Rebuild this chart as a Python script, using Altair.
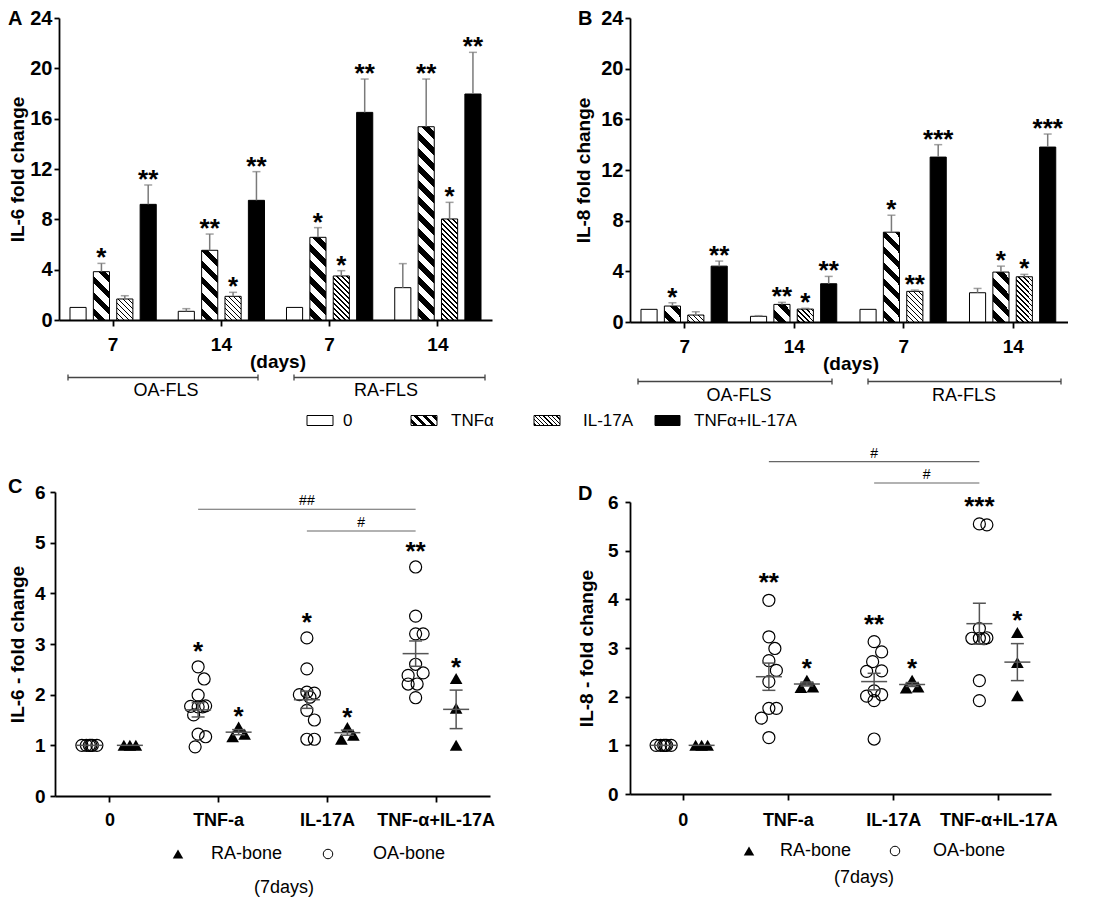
import math
import json
import altair as alt
import pandas as pd

FONT = "Liberation Sans"
ERR_GRAY = "#7a7a7a"
LINE_GRAY = "#555555"

# ---------------- Panels A / B : bar charts ----------------
groups = ["OA7", "OA14", "RA7", "RA14"]
day_labels = ["7", "14", "7", "14"]
cell_names = ["OA-FLS", "RA-FLS"]
treatments = ["0", "TNFα", "IL-17A", "TNFα+IL-17A"]
days_text = "(days)"

il6_mean = [[1.00, 3.84, 1.67, 9.19],
            [0.69, 5.54, 1.88, 9.51],
            [1.00, 6.57, 3.50, 16.50],
            [2.57, 15.36, 8.03, 17.96]]
il6_upper = [[1.00, 4.50, 1.93, 10.73],
             [0.90, 6.83, 2.20, 11.79],
             [1.00, 7.34, 3.92, 19.15],
             [4.48, 19.15, 9.35, 21.27]]
il6_sig = [["", "*", "", "**"],
           ["", "**", "*", "**"],
           ["", "*", "*", "**"],
           ["", "**", "*", "**"]]

il8_mean = [[1.00, 1.26, 0.55, 4.41],
            [0.45, 1.39, 1.02, 3.02],
            [1.00, 7.09, 2.42, 13.02],
            [2.31, 3.94, 3.57, 13.81]]
il8_upper = [[1.00, 1.52, 0.81, 4.81],
             [0.50, 1.55, 1.08, 3.60],
             [1.00, 8.43, 2.52, 14.00],
             [2.65, 4.41, 3.76, 14.84]]
il8_sig = [["", "*", "", "**"],
           ["", "**", "*", "**"],
           ["", "*", "**", "***"],
           ["", "*", "*", "***"]]

# ---------------- Panels C / D : scatter (mean +/- SEM) ----------------
categories = ["0", "TNF-a", "IL-17A", "TNF-α+IL-17A"]
sources = ["OA-bone", "RA-bone"]
days7_text = "(7days)"

c_oa_points = [[1.00, 1.00, 1.00, 1.00, 1.00, 1.00],
               [2.55, 2.31, 1.99, 1.78, 1.77, 1.76, 1.76, 1.60, 1.22, 1.17, 0.97],
               [3.12, 2.51, 2.05, 2.03, 2.00, 1.95, 1.69, 1.50, 1.12, 1.12],
               [4.52, 3.55, 3.20, 3.20, 2.60, 2.43, 2.38, 2.21, 2.21, 1.94]]
c_ra_points = [[1.00, 1.00, 1.00],
               [1.36, 1.22, 1.17],
               [1.35, 1.20, 1.12],
               [2.32, 1.73, 1.00]]
c_oa_mean = [1.00, 1.70, 1.90, 2.81]
c_oa_sem = [0.00, 0.14, 0.17, 0.25]
c_ra_mean = [1.00, 1.26, 1.25, 1.71]
c_ra_sem = [0.00, 0.05, 0.05, 0.38]
c_oa_sig = ["", "*", "*", "**"]
c_ra_sig = ["", "*", "*", "*"]
c_brackets = [{"from": "TNF-a", "to": "TNF-α+IL-17A", "y": 5.66, "mark": "##"},
              {"from": "IL-17A", "to": "TNF-α+IL-17A", "y": 5.23, "mark": "#"}]

d_oa_points = [[1.00, 1.00, 1.00, 1.00, 1.00, 1.00],
               [3.98, 3.23, 2.99, 2.74, 2.54, 2.31, 1.76, 1.76, 1.56, 1.16],
               [3.13, 2.92, 2.72, 2.53, 2.52, 2.12, 2.04, 2.01, 1.92, 1.13],
               [5.55, 5.53, 3.40, 3.21, 3.20, 3.20, 3.19, 2.33, 1.92]]
d_ra_points = [[1.00, 1.00, 1.00],
               [2.34, 2.20, 2.19],
               [2.34, 2.20, 2.18],
               [3.32, 2.70, 2.02]]
d_oa_mean = [1.00, 2.41, 2.31, 3.50]
d_oa_sem = [0.00, 0.28, 0.17, 0.42]
d_ra_mean = [1.00, 2.26, 2.25, 2.71]
d_ra_sem = [0.00, 0.04, 0.04, 0.38]
d_oa_sig = ["", "**", "**", "***"]
d_ra_sig = ["", "*", "*", "*"]
d_brackets = [{"from": "TNF-a", "to": "TNF-α+IL-17A", "y": 6.83, "mark": "#"},
              {"from": "IL-17A", "to": "TNF-α+IL-17A", "y": 6.39, "mark": "#"}]


# ---------------- helpers ----------------
def label_expr(keys, labels):
    expr = "''"
    for k, l in reversed(list(zip(keys, labels))):
        kk = json.dumps(k, ensure_ascii=False) if isinstance(k, str) else str(k)
        expr = f"datum.value == {kk} ? {json.dumps(l, ensure_ascii=False)} : ({expr})"
    return expr


def stripe_gradient(w, h, period, dark):
    """Diagonal '\\' stripes at 45 degrees in pixel space for a w x h rect."""
    L = w + h
    segs = []
    pos = 0.0
    start = period * 0.3
    k = -1
    while True:
        s = start + k * period
        e = s + dark
        k += 1
        if e <= 0:
            continue
        if s >= L:
            break
        a, b = max(s, 0.0), min(e, L)
        if a > pos:
            segs.append((pos, a, "white"))
        segs.append((a, b, "black"))
        pos = b
    if pos < L:
        segs.append((pos, L, "white"))
    stops = []
    for a, b, c in segs:
        stops.append({"offset": round(a / L, 5), "color": c})
        stops.append({"offset": round(b / L, 5), "color": c})
    kk = (w + h) / (w * w + h * h)
    return {"gradient": "linear", "x1": 0, "y1": 1,
            "x2": round(kk * w, 6), "y2": round(1 - kk * h, 6), "stops": stops}


def one_row(**kw):
    return alt.Data(values=[kw if kw else {"k": 0}])


def text_at(text, x, y, size, weight="normal", align="center", baseline="middle", font=FONT):
    return alt.Chart(one_row(t=text)).mark_text(
        font=font, fontSize=size, fontWeight=weight, align=align, baseline=baseline, color="black"
    ).encode(x=alt.value(x), y=alt.value(y), text="t:N")


def hline_at(x1, x2, y, color="black", width=1.2):
    return alt.Chart(one_row()).mark_rule(color=color, strokeWidth=width).encode(
        x=alt.value(x1), x2=alt.value(x2), y=alt.value(y))


def vline_at(x, y1, y2, color="black", width=1.2):
    return alt.Chart(one_row()).mark_rule(color=color, strokeWidth=width).encode(
        x=alt.value(x), y=alt.value(y1), y2=alt.value(y2))


def swarm(vals, ypx, diam, max_off, step):
    cands = [0.0]
    k = 1
    while k * step <= max_off + 1e-9:
        cands += [k * step, -k * step]
        k += 1
    placed, offs = [], []
    for v in vals:
        y = v * ypx
        chosen, best_md, best_c = None, -1.0, 0.0
        for c in cands:
            md = min((math.hypot(c - o, y - yy) for o, yy in placed), default=1e9)
            if md >= diam:
                chosen = c
                break
            if md > best_md + 1e-9:
                best_md, best_c = md, c
        if chosen is None:
            chosen = best_c
        placed.append((chosen, y))
        offs.append(chosen)
    return offs


AX = dict(domainColor="black", domainWidth=1.8, tickColor="black", tickWidth=1.8,
          labelColor="black", labelFont=FONT, labelFontWeight="bold", grid=False)


def bar_panel(letter, letter_x, ytitle, mean, upper, sig, W, H, x0, title_x, ylab_pad, xlab_pad, ann, legend=None):
    rows = []
    for gi, g in enumerate(groups):
        for ti, t in enumerate(treatments):
            rows.append({"group": g, "treat": t, "value": mean[gi][ti],
                         "upper": upper[gi][ti], "sig": sig[gi][ti]})
    df = pd.DataFrame(rows)
    pi, po = 0.31, 0.47
    step_g = (W - x0) / len(groups)
    step_o = step_g / (len(treatments) - pi + 2 * po)
    bw = step_o * (1 - pi)
    ypx = H / 24.0

    xs = alt.Scale(domain=groups, range=[x0, W], paddingInner=0, paddingOuter=0)
    xos = alt.Scale(domain=treatments, paddingInner=pi, paddingOuter=po)
    ys = alt.Scale(domain=[0, 24], nice=False, zero=True)
    xaxis = alt.Axis(**AX, labelExpr=label_expr(groups, day_labels), labelFontSize=19,
                     labelPadding=xlab_pad, tickSize=6, labelAngle=0, title=None)
    yaxis = alt.Axis(**AX, values=list(range(0, 25, 4)), labelFontSize=20, labelPadding=ylab_pad,
                     tickSize=5, title=ytitle, titleFont=FONT, titleFontSize=19, titleFontWeight="bold",
                     titleColor="black", titleAngle=270, titleBaseline="bottom", titleAlign="center",
                     titleX=title_x, titleY=H / 2, offset=-x0)
    X = alt.X("group:N", scale=xs, axis=xaxis, title=None)
    XO = alt.XOffset("treat:N", scale=xos)

    def Y(f):
        return alt.Y(f, type="quantitative", scale=ys, axis=yaxis)

    base = alt.Chart(df)
    layers = [
        base.transform_filter(alt.datum.treat == treatments[0]).mark_bar(
            fill="white", stroke="black", strokeWidth=1).encode(x=X, xOffset=XO, y=Y("value")),
        base.transform_filter(alt.datum.treat == treatments[3]).mark_bar(
            fill="black", stroke="black", strokeWidth=1).encode(x=X, xOffset=XO, y=Y("value")),
    ]
    hatch = {1: (16.0, 7.5), 2: (5.0, 1.4)}
    for gi, g in enumerate(groups):
        for ti in (1, 2):
            per, dark = hatch[ti]
            grad = stripe_gradient(bw, mean[gi][ti] * ypx, per, dark)
            layers.append(
                base.transform_filter((alt.datum.group == g) & (alt.datum.treat == treatments[ti]))
                .mark_bar(fill=grad, stroke="black", strokeWidth=1)
                .encode(x=X, xOffset=XO, y=Y("value")))
    err = base.transform_filter(alt.datum.upper > alt.datum.value + 0.001)
    layers.append(err.mark_rule(color=ERR_GRAY, strokeWidth=1.5).encode(
        x=X, xOffset=XO, y=Y("value"), y2="upper:Q"))
    layers.append(err.mark_tick(color=ERR_GRAY, thickness=1.5, size=8).encode(
        x=X, xOffset=XO, y=Y("upper")))
    layers.append(base.transform_filter(alt.datum.sig != "").mark_text(
        font=FONT, fontSize=26, fontWeight="bold", baseline="alphabetic", dy=3, color="black").encode(
        x=X, xOffset=XO, y=Y("upper"), text="sig:N"))

    # annotations below the axis
    layers.append(text_at(letter, letter_x, 6.5, 20, "bold", align="left", baseline="alphabetic"))
    layers.append(text_at(days_text, ann["days"][0], ann["days"][1], 19, "bold"))
    for (x1, x2), (lx, ly), name in zip(ann["lines"], ann["labels"], cell_names):
        y = ann["line_y"]
        layers.append(hline_at(x1, x2, y, "#444444", 1.3))
        layers.append(vline_at(x1, y - 3, y + 3, "#444444", 1.3))
        layers.append(vline_at(x2, y - 3, y + 3, "#444444", 1.3))
        layers.append(text_at(name, lx, ly, 18))
    if legend is not None:
        ly = legend["y"]
        fills = ["white", stripe_gradient(26, 10, 9.0, 4.2), stripe_gradient(26, 10, 4.3, 1.3), "black"]
        for (sx1, sx2, tx), t, f in zip(legend["items"], treatments, fills):
            layers.append(alt.Chart(one_row(t=t)).mark_rect(fill=f, stroke="black", strokeWidth=1).encode(
                x=alt.value(sx1), x2=alt.value(sx2), y=alt.value(ly - 5), y2=alt.value(ly + 5)))
            layers.append(text_at(t, tx, ly, 17, align="left"))
    return alt.layer(*layers).properties(width=W, height=H)


def scatter_panel(letter, letter_x, letter_y, ytitle, oa_pts, ra_pts, oa_mean, oa_sem, ra_mean, ra_sem,
                  oa_sig, ra_sig, brackets, W, H, ytop, side_oa, side_ra, dy_oa, dy_ra,
                  title_x, ylab_pad, xlab_pad, lg):
    xpx = W / 4.0
    ypx = (H - ytop) / 6.0
    idx = {c: i for i, c in enumerate(categories)}
    pts, stats = [], []
    for ci, cat in enumerate(categories):
        for src, vals, side, diam, mo, mu, se, sg in (
                (sources[0], oa_pts[ci], side_oa, 13.0, 8.0, oa_mean[ci], oa_sem[ci], oa_sig[ci]),
                (sources[1], ra_pts[ci], side_ra, 12.0, 7.0, ra_mean[ci], ra_sem[ci], ra_sig[ci])):
            offs = swarm(vals, ypx, diam, mo, 1.5)
            for v, o in zip(vals, offs):
                pts.append({"src": src, "x": ci + (side + o) / xpx, "y": v})
            xm = ci + side / xpx
            stats.append({"src": src, "xm": xm, "m1": xm - 13 / xpx, "m2": xm + 13 / xpx,
                          "c1": xm - 6.5 / xpx, "c2": xm + 6.5 / xpx, "mean": mu,
                          "lo": mu - se, "hi": mu + se, "sem": se, "sig": sg, "top": max(vals)})
    br = []
    for b in brackets:
        b1 = idx[b["from"]] + side_oa / xpx
        b2 = idx[b["to"]] + side_oa / xpx
        br.append({"b1": b1, "b2": b2, "bm": (b1 + b2) / 2, "by": b["y"], "mark": b["mark"]})
    pdf, sdf, bdf = pd.DataFrame(pts), pd.DataFrame(stats), pd.DataFrame(br)

    xs = alt.Scale(domain=[-0.5, 3.5], nice=False, zero=False)
    yscale = dict(domain=[0, 6], nice=False, zero=True)
    if ytop:
        yscale["range"] = [H, ytop]
    ys = alt.Scale(**yscale)
    xaxis = alt.Axis(**AX, values=[0, 1, 2, 3], labelExpr=label_expr([0, 1, 2, 3], categories),
                     labelFontSize=18, labelPadding=xlab_pad, tickSize=6, labelAngle=0, title=None)
    yaxis = alt.Axis(**AX, values=[0, 1, 2, 3, 4, 5, 6], labelFontSize=19, labelPadding=ylab_pad,
                     tickSize=5, title=ytitle, titleFont=FONT, titleFontSize=19, titleFontWeight="bold",
                     titleColor="black", titleAngle=270, titleBaseline="bottom", titleAlign="center",
                     titleX=title_x, titleY=(H + ytop) / 2)

    def X(f):
        return alt.X(f, type="quantitative", scale=xs, axis=xaxis)

    def Y(f):
        return alt.Y(f, type="quantitative", scale=ys, axis=yaxis)

    sb = alt.Chart(sdf)
    withsem = sb.transform_filter(alt.datum.sem > 0)
    pb = alt.Chart(pdf)
    layers = [
        pb.transform_filter(alt.datum.src == sources[0]).mark_point(
            shape="circle", filled=False, color="black", strokeWidth=1.2, size=145, opacity=1).encode(
            x=X("x"), y=Y("y")),
        pb.transform_filter(alt.datum.src == sources[1]).mark_point(
            shape="triangle-up", filled=True, color="black", size=160, opacity=1).encode(
            x=X("x"), y=Y("y")),
        sb.mark_rule(color=LINE_GRAY, strokeWidth=1.5).encode(x=X("m1"), x2="m2:Q", y=Y("mean")),
        withsem.mark_rule(color=LINE_GRAY, strokeWidth=1.5).encode(x=X("xm"), y=Y("lo"), y2="hi:Q"),
        withsem.mark_rule(color=LINE_GRAY, strokeWidth=1.5).encode(x=X("c1"), x2="c2:Q", y=Y("lo")),
        withsem.mark_rule(color=LINE_GRAY, strokeWidth=1.5).encode(x=X("c1"), x2="c2:Q", y=Y("hi")),
    ]
    for src, dy in ((sources[0], dy_oa), (sources[1], dy_ra)):
        layers.append(sb.transform_filter((alt.datum.src == src) & (alt.datum.sig != "")).mark_text(
            font=FONT, fontSize=26, fontWeight="bold", baseline="alphabetic", dy=dy, color="black").encode(
            x=X("xm"), y=Y("top"), text="sig:N"))
    bb = alt.Chart(bdf)
    layers.append(bb.mark_rule(color="#666666", strokeWidth=1.2).encode(x=X("b1"), x2="b2:Q", y=Y("by")))
    layers.append(bb.mark_text(font=FONT, fontSize=14, baseline="alphabetic", dy=-4, color="black").encode(
        x=X("bm"), y=Y("by"), text="mark:N"))

    layers.append(text_at(letter, letter_x, letter_y, 20, "bold", align="left", baseline="alphabetic"))
    # legend
    ly = lg["y"]
    layers.append(alt.Chart(one_row(s=sources[1])).mark_point(
        shape="triangle-up", filled=True, color="black", size=110, opacity=1).encode(
        x=alt.value(lg["tri"]), y=alt.value(ly)))
    layers.append(text_at(sources[1], lg["tri_t"], ly, 18, align="left"))
    layers.append(alt.Chart(one_row(s=sources[0])).mark_point(
        shape="circle", filled=False, color="black", strokeWidth=1, size=90, opacity=1).encode(
        x=alt.value(lg["cir"]), y=alt.value(ly)))
    layers.append(text_at(sources[0], lg["cir_t"], ly, 18, align="left"))
    layers.append(text_at(days7_text, lg["days"][0], lg["days"][1], 18))
    return alt.layer(*layers).properties(width=W, height=H)


A = bar_panel("A", -47, "IL-6 fold change", il6_mean, il6_upper, il6_sig, 437, 302, 4, -32, 2, 9,
              {"days": (223, 343.5), "line_y": 359.5, "lines": [(13, 203), (239, 430)],
               "labels": [(111, 372.5), (331, 372.5)]},
              legend={"y": 402.5, "items": [(252, 278, 288), (356, 382, 396), (479, 505, 528), (600, 625, 639)]})
B = bar_panel("B", -52, "IL-8 fold change", il8_mean, il8_upper, il8_sig, 438, 304, 0, -37, 2, 9,
              {"days": (221, 345.5), "line_y": 363.5, "lines": [(8, 202), (238, 431)],
               "labels": [(109, 377.5), (334, 377.5)]})
C = scatter_panel("C", -47, 1, "IL-6 - fold change", c_oa_points, c_ra_points, c_oa_mean, c_oa_sem,
                  c_ra_mean, c_ra_sem, c_oa_sig, c_ra_sig, c_brackets, 435, 304, 0, -20, 20.5, -7, -2,
                  -28, 5, 9,
                  {"y": 362, "tri": 123, "tri_t": 156, "cir": 273, "cir_t": 318, "days": (229, 396)})
D = scatter_panel("D", -52, 8, "IL-8 - fold change", d_oa_points, d_ra_points, d_oa_mean, d_oa_sem,
                  d_ra_mean, d_ra_sem, d_oa_sig, d_ra_sig, d_brackets, 421, 302, 10, -19, 19, -9, -3,
                  -34, 7, 11,
                  {"y": 359, "tri": 119, "tri_t": 150, "cir": 265, "cir_t": 303, "days": (234, 386)})

chart = alt.concat(A, B, C, D, columns=2, spacing={"row": 170, "column": 137},
                   bounds="flush", align="all").properties(
    padding=0, background="white").configure_view(stroke=None)

chart.save("out.html", embed_options={"renderer": "svg", "actions": False})
